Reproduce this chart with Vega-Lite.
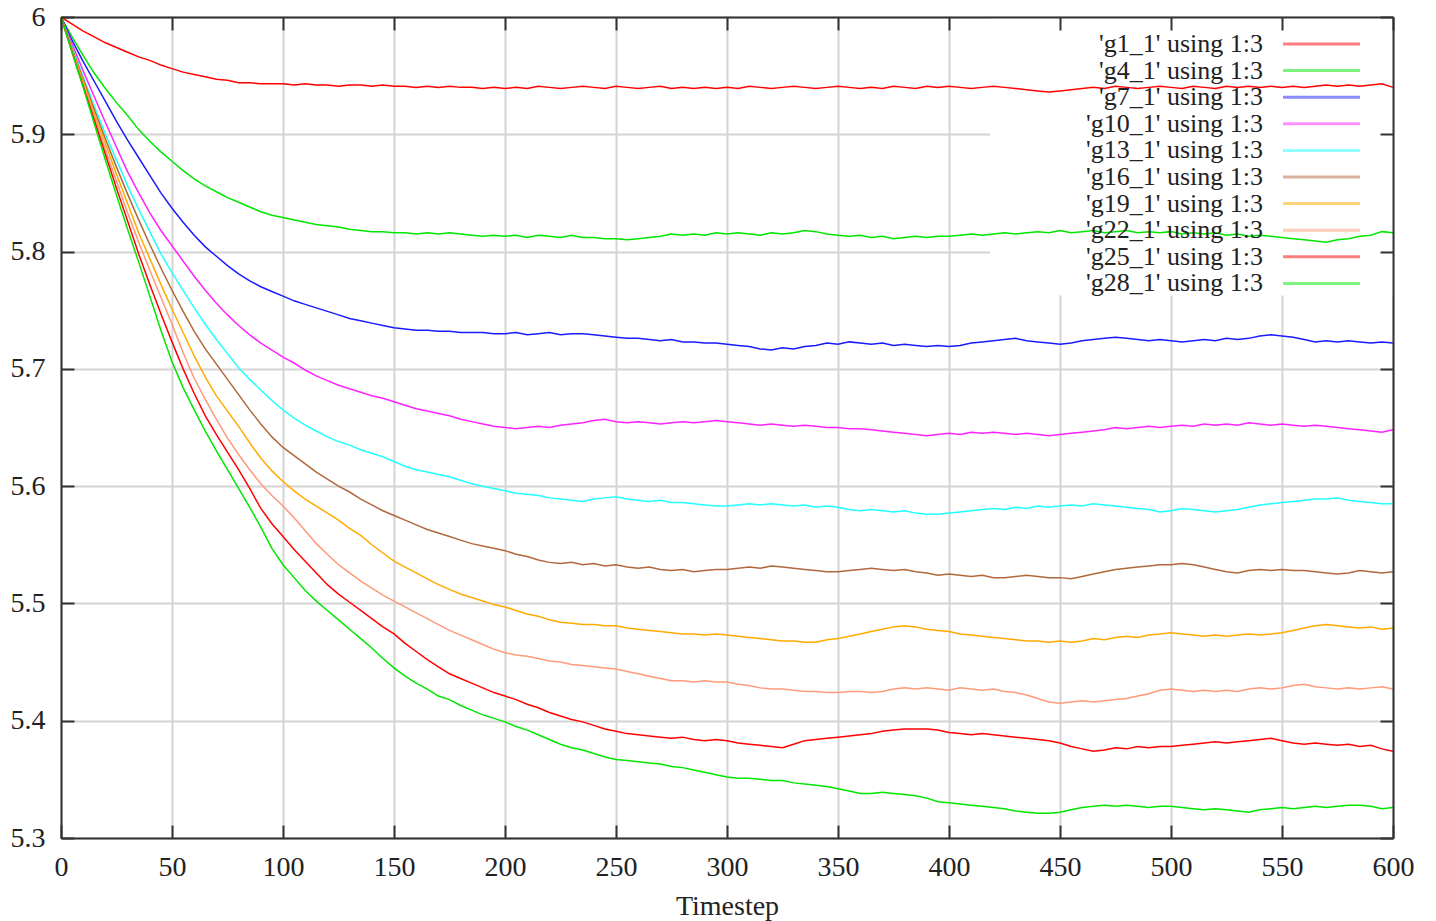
{
  "$schema": "https://vega.github.io/schema/vega-lite/v6.json",
  "width": 1332,
  "height": 821,
  "autosize": {"type": "none"},
  "padding": {"left": 61, "top": 17, "right": 43, "bottom": 83},
  "background": "white",
  "config": {
    "view": {"stroke": null},
    "font": "Liberation Serif"
  },
  "datasets": {
    "curves": [
      {"t":0,"g1_1":6,"g4_1":6,"g7_1":6,"g10_1":6,"g13_1":6,"g16_1":6,"g19_1":6,"g22_1":6,"g25_1":6,"g28_1":6},
      {"t":5,"g1_1":5.994,"g4_1":5.983,"g7_1":5.980,"g10_1":5.977,"g13_1":5.974,"g16_1":5.973,"g19_1":5.972,"g22_1":5.971,"g25_1":5.970,"g28_1":5.970},
      {"t":10,"g1_1":5.988,"g4_1":5.967,"g7_1":5.962,"g10_1":5.954,"g13_1":5.949,"g16_1":5.947,"g19_1":5.945,"g22_1":5.943,"g25_1":5.941,"g28_1":5.940},
      {"t":15,"g1_1":5.983,"g4_1":5.952,"g7_1":5.945,"g10_1":5.932,"g13_1":5.924,"g16_1":5.921,"g19_1":5.918,"g22_1":5.915,"g25_1":5.912,"g28_1":5.909},
      {"t":20,"g1_1":5.978,"g4_1":5.939,"g7_1":5.928,"g10_1":5.910,"g13_1":5.900,"g16_1":5.896,"g19_1":5.892,"g22_1":5.887,"g25_1":5.883,"g28_1":5.878},
      {"t":25,"g1_1":5.974,"g4_1":5.927,"g7_1":5.911,"g10_1":5.889,"g13_1":5.878,"g16_1":5.872,"g19_1":5.866,"g22_1":5.860,"g25_1":5.854,"g28_1":5.848},
      {"t":30,"g1_1":5.970,"g4_1":5.916,"g7_1":5.895,"g10_1":5.868,"g13_1":5.856,"g16_1":5.849,"g19_1":5.841,"g22_1":5.833,"g25_1":5.826,"g28_1":5.819},
      {"t":35,"g1_1":5.966,"g4_1":5.904,"g7_1":5.880,"g10_1":5.850,"g13_1":5.836,"g16_1":5.827,"g19_1":5.816,"g22_1":5.808,"g25_1":5.798,"g28_1":5.791},
      {"t":40,"g1_1":5.963,"g4_1":5.894,"g7_1":5.865,"g10_1":5.833,"g13_1":5.817,"g16_1":5.806,"g19_1":5.794,"g22_1":5.784,"g25_1":5.772,"g28_1":5.762},
      {"t":45,"g1_1":5.959,"g4_1":5.885,"g7_1":5.850,"g10_1":5.818,"g13_1":5.798,"g16_1":5.786,"g19_1":5.772,"g22_1":5.761,"g25_1":5.747,"g28_1":5.733},
      {"t":50,"g1_1":5.956,"g4_1":5.877,"g7_1":5.837,"g10_1":5.805,"g13_1":5.782,"g16_1":5.767,"g19_1":5.751,"g22_1":5.738,"g25_1":5.723,"g28_1":5.706},
      {"t":55,"g1_1":5.953,"g4_1":5.869,"g7_1":5.825,"g10_1":5.792,"g13_1":5.767,"g16_1":5.749,"g19_1":5.731,"g22_1":5.714,"g25_1":5.700,"g28_1":5.684},
      {"t":60,"g1_1":5.951,"g4_1":5.862,"g7_1":5.814,"g10_1":5.779,"g13_1":5.752,"g16_1":5.732,"g19_1":5.711,"g22_1":5.692,"g25_1":5.679,"g28_1":5.665},
      {"t":65,"g1_1":5.949,"g4_1":5.856,"g7_1":5.804,"g10_1":5.767,"g13_1":5.738,"g16_1":5.717,"g19_1":5.693,"g22_1":5.674,"g25_1":5.660,"g28_1":5.647},
      {"t":70,"g1_1":5.947,"g4_1":5.851,"g7_1":5.796,"g10_1":5.756,"g13_1":5.725,"g16_1":5.704,"g19_1":5.677,"g22_1":5.657,"g25_1":5.644,"g28_1":5.630},
      {"t":75,"g1_1":5.946,"g4_1":5.846,"g7_1":5.788,"g10_1":5.746,"g13_1":5.713,"g16_1":5.691,"g19_1":5.664,"g22_1":5.641,"g25_1":5.629,"g28_1":5.614},
      {"t":80,"g1_1":5.944,"g4_1":5.842,"g7_1":5.781,"g10_1":5.737,"g13_1":5.701,"g16_1":5.678,"g19_1":5.651,"g22_1":5.627,"g25_1":5.614,"g28_1":5.598},
      {"t":85,"g1_1":5.944,"g4_1":5.838,"g7_1":5.775,"g10_1":5.729,"g13_1":5.691,"g16_1":5.665,"g19_1":5.637,"g22_1":5.614,"g25_1":5.598,"g28_1":5.582},
      {"t":90,"g1_1":5.943,"g4_1":5.834,"g7_1":5.770,"g10_1":5.722,"g13_1":5.682,"g16_1":5.653,"g19_1":5.624,"g22_1":5.602,"g25_1":5.581,"g28_1":5.565},
      {"t":95,"g1_1":5.943,"g4_1":5.831,"g7_1":5.766,"g10_1":5.716,"g13_1":5.673,"g16_1":5.642,"g19_1":5.613,"g22_1":5.592,"g25_1":5.568,"g28_1":5.547},
      {"t":100,"g1_1":5.943,"g4_1":5.829,"g7_1":5.762,"g10_1":5.710,"g13_1":5.665,"g16_1":5.633,"g19_1":5.604,"g22_1":5.583,"g25_1":5.557,"g28_1":5.533},
      {"t":105,"g1_1":5.942,"g4_1":5.827,"g7_1":5.758,"g10_1":5.705,"g13_1":5.658,"g16_1":5.626,"g19_1":5.596,"g22_1":5.573,"g25_1":5.546,"g28_1":5.522},
      {"t":110,"g1_1":5.943,"g4_1":5.825,"g7_1":5.755,"g10_1":5.699,"g13_1":5.652,"g16_1":5.619,"g19_1":5.589,"g22_1":5.562,"g25_1":5.536,"g28_1":5.511},
      {"t":115,"g1_1":5.942,"g4_1":5.823,"g7_1":5.752,"g10_1":5.694,"g13_1":5.647,"g16_1":5.612,"g19_1":5.583,"g22_1":5.551,"g25_1":5.526,"g28_1":5.502},
      {"t":120,"g1_1":5.942,"g4_1":5.822,"g7_1":5.749,"g10_1":5.690,"g13_1":5.642,"g16_1":5.606,"g19_1":5.577,"g22_1":5.542,"g25_1":5.516,"g28_1":5.494},
      {"t":125,"g1_1":5.941,"g4_1":5.821,"g7_1":5.746,"g10_1":5.686,"g13_1":5.638,"g16_1":5.600,"g19_1":5.571,"g22_1":5.533,"g25_1":5.508,"g28_1":5.486},
      {"t":130,"g1_1":5.942,"g4_1":5.819,"g7_1":5.743,"g10_1":5.683,"g13_1":5.635,"g16_1":5.595,"g19_1":5.564,"g22_1":5.526,"g25_1":5.501,"g28_1":5.478},
      {"t":135,"g1_1":5.942,"g4_1":5.818,"g7_1":5.741,"g10_1":5.680,"g13_1":5.631,"g16_1":5.589,"g19_1":5.558,"g22_1":5.519,"g25_1":5.494,"g28_1":5.470},
      {"t":140,"g1_1":5.941,"g4_1":5.817,"g7_1":5.739,"g10_1":5.677,"g13_1":5.628,"g16_1":5.584,"g19_1":5.550,"g22_1":5.513,"g25_1":5.487,"g28_1":5.462},
      {"t":145,"g1_1":5.942,"g4_1":5.817,"g7_1":5.737,"g10_1":5.675,"g13_1":5.625,"g16_1":5.579,"g19_1":5.543,"g22_1":5.507,"g25_1":5.480,"g28_1":5.453},
      {"t":150,"g1_1":5.941,"g4_1":5.816,"g7_1":5.735,"g10_1":5.672,"g13_1":5.621,"g16_1":5.575,"g19_1":5.536,"g22_1":5.502,"g25_1":5.474,"g28_1":5.445},
      {"t":155,"g1_1":5.941,"g4_1":5.816,"g7_1":5.734,"g10_1":5.669,"g13_1":5.617,"g16_1":5.571,"g19_1":5.531,"g22_1":5.497,"g25_1":5.466,"g28_1":5.438},
      {"t":160,"g1_1":5.940,"g4_1":5.815,"g7_1":5.733,"g10_1":5.666,"g13_1":5.614,"g16_1":5.567,"g19_1":5.526,"g22_1":5.492,"g25_1":5.459,"g28_1":5.432},
      {"t":165,"g1_1":5.941,"g4_1":5.816,"g7_1":5.733,"g10_1":5.664,"g13_1":5.612,"g16_1":5.563,"g19_1":5.521,"g22_1":5.487,"g25_1":5.452,"g28_1":5.427},
      {"t":170,"g1_1":5.940,"g4_1":5.815,"g7_1":5.732,"g10_1":5.662,"g13_1":5.610,"g16_1":5.560,"g19_1":5.516,"g22_1":5.482,"g25_1":5.446,"g28_1":5.421},
      {"t":175,"g1_1":5.941,"g4_1":5.816,"g7_1":5.732,"g10_1":5.660,"g13_1":5.608,"g16_1":5.557,"g19_1":5.512,"g22_1":5.477,"g25_1":5.440,"g28_1":5.418},
      {"t":180,"g1_1":5.940,"g4_1":5.815,"g7_1":5.731,"g10_1":5.657,"g13_1":5.605,"g16_1":5.554,"g19_1":5.508,"g22_1":5.473,"g25_1":5.436,"g28_1":5.413},
      {"t":185,"g1_1":5.940,"g4_1":5.814,"g7_1":5.731,"g10_1":5.655,"g13_1":5.602,"g16_1":5.551,"g19_1":5.505,"g22_1":5.469,"g25_1":5.432,"g28_1":5.409},
      {"t":190,"g1_1":5.939,"g4_1":5.813,"g7_1":5.731,"g10_1":5.653,"g13_1":5.600,"g16_1":5.549,"g19_1":5.502,"g22_1":5.465,"g25_1":5.428,"g28_1":5.405},
      {"t":195,"g1_1":5.940,"g4_1":5.814,"g7_1":5.730,"g10_1":5.651,"g13_1":5.598,"g16_1":5.547,"g19_1":5.499,"g22_1":5.461,"g25_1":5.424,"g28_1":5.402},
      {"t":200,"g1_1":5.939,"g4_1":5.813,"g7_1":5.730,"g10_1":5.650,"g13_1":5.596,"g16_1":5.545,"g19_1":5.497,"g22_1":5.458,"g25_1":5.421,"g28_1":5.399},
      {"t":205,"g1_1":5.940,"g4_1":5.814,"g7_1":5.731,"g10_1":5.649,"g13_1":5.594,"g16_1":5.542,"g19_1":5.494,"g22_1":5.456,"g25_1":5.418,"g28_1":5.395},
      {"t":210,"g1_1":5.939,"g4_1":5.812,"g7_1":5.729,"g10_1":5.650,"g13_1":5.593,"g16_1":5.540,"g19_1":5.491,"g22_1":5.455,"g25_1":5.414,"g28_1":5.392},
      {"t":215,"g1_1":5.941,"g4_1":5.814,"g7_1":5.730,"g10_1":5.651,"g13_1":5.592,"g16_1":5.537,"g19_1":5.489,"g22_1":5.453,"g25_1":5.411,"g28_1":5.388},
      {"t":220,"g1_1":5.940,"g4_1":5.813,"g7_1":5.731,"g10_1":5.650,"g13_1":5.590,"g16_1":5.535,"g19_1":5.486,"g22_1":5.451,"g25_1":5.407,"g28_1":5.384},
      {"t":225,"g1_1":5.939,"g4_1":5.812,"g7_1":5.729,"g10_1":5.652,"g13_1":5.589,"g16_1":5.534,"g19_1":5.484,"g22_1":5.450,"g25_1":5.404,"g28_1":5.380},
      {"t":230,"g1_1":5.940,"g4_1":5.814,"g7_1":5.730,"g10_1":5.653,"g13_1":5.588,"g16_1":5.535,"g19_1":5.483,"g22_1":5.448,"g25_1":5.401,"g28_1":5.377},
      {"t":235,"g1_1":5.941,"g4_1":5.812,"g7_1":5.730,"g10_1":5.654,"g13_1":5.587,"g16_1":5.533,"g19_1":5.482,"g22_1":5.447,"g25_1":5.399,"g28_1":5.375},
      {"t":240,"g1_1":5.940,"g4_1":5.812,"g7_1":5.729,"g10_1":5.656,"g13_1":5.589,"g16_1":5.534,"g19_1":5.482,"g22_1":5.446,"g25_1":5.396,"g28_1":5.372},
      {"t":245,"g1_1":5.939,"g4_1":5.811,"g7_1":5.728,"g10_1":5.657,"g13_1":5.590,"g16_1":5.532,"g19_1":5.481,"g22_1":5.445,"g25_1":5.393,"g28_1":5.369},
      {"t":250,"g1_1":5.941,"g4_1":5.811,"g7_1":5.727,"g10_1":5.655,"g13_1":5.591,"g16_1":5.533,"g19_1":5.481,"g22_1":5.444,"g25_1":5.391,"g28_1":5.367},
      {"t":255,"g1_1":5.940,"g4_1":5.810,"g7_1":5.726,"g10_1":5.654,"g13_1":5.589,"g16_1":5.531,"g19_1":5.479,"g22_1":5.442,"g25_1":5.389,"g28_1":5.366},
      {"t":260,"g1_1":5.939,"g4_1":5.811,"g7_1":5.726,"g10_1":5.655,"g13_1":5.588,"g16_1":5.530,"g19_1":5.478,"g22_1":5.440,"g25_1":5.388,"g28_1":5.365},
      {"t":265,"g1_1":5.940,"g4_1":5.812,"g7_1":5.725,"g10_1":5.654,"g13_1":5.587,"g16_1":5.531,"g19_1":5.477,"g22_1":5.438,"g25_1":5.387,"g28_1":5.364},
      {"t":270,"g1_1":5.941,"g4_1":5.813,"g7_1":5.724,"g10_1":5.653,"g13_1":5.588,"g16_1":5.529,"g19_1":5.476,"g22_1":5.436,"g25_1":5.386,"g28_1":5.363},
      {"t":275,"g1_1":5.939,"g4_1":5.815,"g7_1":5.725,"g10_1":5.654,"g13_1":5.586,"g16_1":5.528,"g19_1":5.475,"g22_1":5.434,"g25_1":5.385,"g28_1":5.361},
      {"t":280,"g1_1":5.940,"g4_1":5.814,"g7_1":5.723,"g10_1":5.655,"g13_1":5.586,"g16_1":5.529,"g19_1":5.474,"g22_1":5.434,"g25_1":5.386,"g28_1":5.360},
      {"t":285,"g1_1":5.939,"g4_1":5.815,"g7_1":5.723,"g10_1":5.654,"g13_1":5.585,"g16_1":5.527,"g19_1":5.474,"g22_1":5.433,"g25_1":5.384,"g28_1":5.358},
      {"t":290,"g1_1":5.940,"g4_1":5.814,"g7_1":5.722,"g10_1":5.655,"g13_1":5.584,"g16_1":5.528,"g19_1":5.473,"g22_1":5.434,"g25_1":5.383,"g28_1":5.356},
      {"t":295,"g1_1":5.939,"g4_1":5.816,"g7_1":5.722,"g10_1":5.656,"g13_1":5.583,"g16_1":5.529,"g19_1":5.474,"g22_1":5.433,"g25_1":5.384,"g28_1":5.354},
      {"t":300,"g1_1":5.940,"g4_1":5.815,"g7_1":5.721,"g10_1":5.655,"g13_1":5.583,"g16_1":5.529,"g19_1":5.473,"g22_1":5.433,"g25_1":5.383,"g28_1":5.352},
      {"t":305,"g1_1":5.939,"g4_1":5.816,"g7_1":5.720,"g10_1":5.654,"g13_1":5.584,"g16_1":5.530,"g19_1":5.472,"g22_1":5.431,"g25_1":5.381,"g28_1":5.351},
      {"t":310,"g1_1":5.941,"g4_1":5.815,"g7_1":5.719,"g10_1":5.653,"g13_1":5.585,"g16_1":5.531,"g19_1":5.471,"g22_1":5.430,"g25_1":5.380,"g28_1":5.351},
      {"t":315,"g1_1":5.940,"g4_1":5.814,"g7_1":5.717,"g10_1":5.652,"g13_1":5.584,"g16_1":5.530,"g19_1":5.470,"g22_1":5.428,"g25_1":5.379,"g28_1":5.350},
      {"t":320,"g1_1":5.939,"g4_1":5.816,"g7_1":5.716,"g10_1":5.653,"g13_1":5.585,"g16_1":5.532,"g19_1":5.469,"g22_1":5.427,"g25_1":5.378,"g28_1":5.349},
      {"t":325,"g1_1":5.940,"g4_1":5.815,"g7_1":5.718,"g10_1":5.652,"g13_1":5.584,"g16_1":5.531,"g19_1":5.468,"g22_1":5.427,"g25_1":5.377,"g28_1":5.349},
      {"t":330,"g1_1":5.941,"g4_1":5.816,"g7_1":5.717,"g10_1":5.651,"g13_1":5.583,"g16_1":5.530,"g19_1":5.468,"g22_1":5.426,"g25_1":5.380,"g28_1":5.347},
      {"t":335,"g1_1":5.940,"g4_1":5.818,"g7_1":5.719,"g10_1":5.652,"g13_1":5.584,"g16_1":5.529,"g19_1":5.467,"g22_1":5.425,"g25_1":5.383,"g28_1":5.346},
      {"t":340,"g1_1":5.939,"g4_1":5.817,"g7_1":5.720,"g10_1":5.651,"g13_1":5.582,"g16_1":5.528,"g19_1":5.467,"g22_1":5.425,"g25_1":5.384,"g28_1":5.345},
      {"t":345,"g1_1":5.940,"g4_1":5.815,"g7_1":5.722,"g10_1":5.650,"g13_1":5.583,"g16_1":5.527,"g19_1":5.469,"g22_1":5.424,"g25_1":5.385,"g28_1":5.344},
      {"t":350,"g1_1":5.941,"g4_1":5.814,"g7_1":5.721,"g10_1":5.650,"g13_1":5.582,"g16_1":5.527,"g19_1":5.470,"g22_1":5.424,"g25_1":5.386,"g28_1":5.342},
      {"t":355,"g1_1":5.940,"g4_1":5.813,"g7_1":5.723,"g10_1":5.649,"g13_1":5.580,"g16_1":5.528,"g19_1":5.472,"g22_1":5.425,"g25_1":5.387,"g28_1":5.340},
      {"t":360,"g1_1":5.939,"g4_1":5.814,"g7_1":5.722,"g10_1":5.649,"g13_1":5.579,"g16_1":5.529,"g19_1":5.474,"g22_1":5.425,"g25_1":5.388,"g28_1":5.338},
      {"t":365,"g1_1":5.940,"g4_1":5.812,"g7_1":5.721,"g10_1":5.648,"g13_1":5.580,"g16_1":5.530,"g19_1":5.476,"g22_1":5.424,"g25_1":5.389,"g28_1":5.338},
      {"t":370,"g1_1":5.939,"g4_1":5.813,"g7_1":5.722,"g10_1":5.647,"g13_1":5.579,"g16_1":5.529,"g19_1":5.478,"g22_1":5.425,"g25_1":5.391,"g28_1":5.339},
      {"t":375,"g1_1":5.941,"g4_1":5.811,"g7_1":5.720,"g10_1":5.646,"g13_1":5.578,"g16_1":5.528,"g19_1":5.480,"g22_1":5.427,"g25_1":5.392,"g28_1":5.338},
      {"t":380,"g1_1":5.940,"g4_1":5.812,"g7_1":5.721,"g10_1":5.645,"g13_1":5.579,"g16_1":5.529,"g19_1":5.481,"g22_1":5.428,"g25_1":5.393,"g28_1":5.337},
      {"t":385,"g1_1":5.939,"g4_1":5.813,"g7_1":5.720,"g10_1":5.644,"g13_1":5.577,"g16_1":5.527,"g19_1":5.480,"g22_1":5.427,"g25_1":5.393,"g28_1":5.336},
      {"t":390,"g1_1":5.941,"g4_1":5.812,"g7_1":5.719,"g10_1":5.643,"g13_1":5.576,"g16_1":5.526,"g19_1":5.478,"g22_1":5.428,"g25_1":5.393,"g28_1":5.334},
      {"t":395,"g1_1":5.940,"g4_1":5.813,"g7_1":5.720,"g10_1":5.644,"g13_1":5.576,"g16_1":5.524,"g19_1":5.477,"g22_1":5.427,"g25_1":5.392,"g28_1":5.331},
      {"t":400,"g1_1":5.941,"g4_1":5.813,"g7_1":5.719,"g10_1":5.645,"g13_1":5.577,"g16_1":5.525,"g19_1":5.476,"g22_1":5.426,"g25_1":5.390,"g28_1":5.330},
      {"t":405,"g1_1":5.940,"g4_1":5.814,"g7_1":5.720,"g10_1":5.644,"g13_1":5.578,"g16_1":5.524,"g19_1":5.474,"g22_1":5.428,"g25_1":5.389,"g28_1":5.329},
      {"t":410,"g1_1":5.939,"g4_1":5.815,"g7_1":5.722,"g10_1":5.646,"g13_1":5.579,"g16_1":5.523,"g19_1":5.473,"g22_1":5.427,"g25_1":5.388,"g28_1":5.328},
      {"t":415,"g1_1":5.940,"g4_1":5.814,"g7_1":5.723,"g10_1":5.645,"g13_1":5.580,"g16_1":5.524,"g19_1":5.472,"g22_1":5.426,"g25_1":5.389,"g28_1":5.327},
      {"t":420,"g1_1":5.941,"g4_1":5.815,"g7_1":5.724,"g10_1":5.646,"g13_1":5.581,"g16_1":5.522,"g19_1":5.471,"g22_1":5.427,"g25_1":5.388,"g28_1":5.326},
      {"t":425,"g1_1":5.940,"g4_1":5.816,"g7_1":5.725,"g10_1":5.645,"g13_1":5.580,"g16_1":5.522,"g19_1":5.470,"g22_1":5.425,"g25_1":5.387,"g28_1":5.325},
      {"t":430,"g1_1":5.939,"g4_1":5.815,"g7_1":5.726,"g10_1":5.644,"g13_1":5.582,"g16_1":5.523,"g19_1":5.469,"g22_1":5.424,"g25_1":5.386,"g28_1":5.323},
      {"t":435,"g1_1":5.938,"g4_1":5.816,"g7_1":5.724,"g10_1":5.645,"g13_1":5.581,"g16_1":5.524,"g19_1":5.468,"g22_1":5.422,"g25_1":5.385,"g28_1":5.322},
      {"t":440,"g1_1":5.937,"g4_1":5.817,"g7_1":5.723,"g10_1":5.644,"g13_1":5.583,"g16_1":5.523,"g19_1":5.468,"g22_1":5.419,"g25_1":5.384,"g28_1":5.321},
      {"t":445,"g1_1":5.936,"g4_1":5.816,"g7_1":5.722,"g10_1":5.643,"g13_1":5.582,"g16_1":5.522,"g19_1":5.467,"g22_1":5.416,"g25_1":5.383,"g28_1":5.321},
      {"t":450,"g1_1":5.937,"g4_1":5.818,"g7_1":5.721,"g10_1":5.644,"g13_1":5.583,"g16_1":5.522,"g19_1":5.468,"g22_1":5.415,"g25_1":5.381,"g28_1":5.322},
      {"t":455,"g1_1":5.938,"g4_1":5.816,"g7_1":5.722,"g10_1":5.645,"g13_1":5.584,"g16_1":5.521,"g19_1":5.467,"g22_1":5.416,"g25_1":5.378,"g28_1":5.324},
      {"t":460,"g1_1":5.939,"g4_1":5.817,"g7_1":5.724,"g10_1":5.646,"g13_1":5.583,"g16_1":5.523,"g19_1":5.468,"g22_1":5.417,"g25_1":5.376,"g28_1":5.326},
      {"t":465,"g1_1":5.940,"g4_1":5.818,"g7_1":5.725,"g10_1":5.647,"g13_1":5.585,"g16_1":5.525,"g19_1":5.470,"g22_1":5.416,"g25_1":5.374,"g28_1":5.327},
      {"t":470,"g1_1":5.939,"g4_1":5.816,"g7_1":5.726,"g10_1":5.648,"g13_1":5.584,"g16_1":5.527,"g19_1":5.469,"g22_1":5.417,"g25_1":5.375,"g28_1":5.328},
      {"t":475,"g1_1":5.941,"g4_1":5.817,"g7_1":5.727,"g10_1":5.650,"g13_1":5.583,"g16_1":5.529,"g19_1":5.471,"g22_1":5.418,"g25_1":5.377,"g28_1":5.327},
      {"t":480,"g1_1":5.940,"g4_1":5.818,"g7_1":5.726,"g10_1":5.649,"g13_1":5.582,"g16_1":5.530,"g19_1":5.472,"g22_1":5.419,"g25_1":5.376,"g28_1":5.328},
      {"t":485,"g1_1":5.939,"g4_1":5.816,"g7_1":5.725,"g10_1":5.650,"g13_1":5.581,"g16_1":5.531,"g19_1":5.471,"g22_1":5.421,"g25_1":5.378,"g28_1":5.327},
      {"t":490,"g1_1":5.940,"g4_1":5.817,"g7_1":5.724,"g10_1":5.651,"g13_1":5.580,"g16_1":5.532,"g19_1":5.473,"g22_1":5.423,"g25_1":5.377,"g28_1":5.326},
      {"t":495,"g1_1":5.941,"g4_1":5.816,"g7_1":5.725,"g10_1":5.650,"g13_1":5.578,"g16_1":5.533,"g19_1":5.474,"g22_1":5.426,"g25_1":5.378,"g28_1":5.327},
      {"t":500,"g1_1":5.940,"g4_1":5.817,"g7_1":5.724,"g10_1":5.651,"g13_1":5.579,"g16_1":5.533,"g19_1":5.475,"g22_1":5.427,"g25_1":5.378,"g28_1":5.327},
      {"t":505,"g1_1":5.939,"g4_1":5.815,"g7_1":5.723,"g10_1":5.652,"g13_1":5.581,"g16_1":5.534,"g19_1":5.474,"g22_1":5.426,"g25_1":5.379,"g28_1":5.326},
      {"t":510,"g1_1":5.941,"g4_1":5.816,"g7_1":5.724,"g10_1":5.651,"g13_1":5.580,"g16_1":5.533,"g19_1":5.473,"g22_1":5.425,"g25_1":5.380,"g28_1":5.325},
      {"t":515,"g1_1":5.940,"g4_1":5.815,"g7_1":5.725,"g10_1":5.653,"g13_1":5.579,"g16_1":5.531,"g19_1":5.472,"g22_1":5.426,"g25_1":5.381,"g28_1":5.324},
      {"t":520,"g1_1":5.939,"g4_1":5.816,"g7_1":5.724,"g10_1":5.652,"g13_1":5.578,"g16_1":5.529,"g19_1":5.473,"g22_1":5.425,"g25_1":5.382,"g28_1":5.325},
      {"t":525,"g1_1":5.941,"g4_1":5.814,"g7_1":5.726,"g10_1":5.653,"g13_1":5.579,"g16_1":5.527,"g19_1":5.472,"g22_1":5.426,"g25_1":5.381,"g28_1":5.324},
      {"t":530,"g1_1":5.940,"g4_1":5.815,"g7_1":5.725,"g10_1":5.652,"g13_1":5.580,"g16_1":5.526,"g19_1":5.473,"g22_1":5.425,"g25_1":5.382,"g28_1":5.323},
      {"t":535,"g1_1":5.941,"g4_1":5.813,"g7_1":5.726,"g10_1":5.654,"g13_1":5.582,"g16_1":5.528,"g19_1":5.474,"g22_1":5.427,"g25_1":5.383,"g28_1":5.322},
      {"t":540,"g1_1":5.940,"g4_1":5.814,"g7_1":5.728,"g10_1":5.653,"g13_1":5.584,"g16_1":5.529,"g19_1":5.473,"g22_1":5.428,"g25_1":5.384,"g28_1":5.324},
      {"t":545,"g1_1":5.941,"g4_1":5.813,"g7_1":5.729,"g10_1":5.652,"g13_1":5.585,"g16_1":5.528,"g19_1":5.474,"g22_1":5.427,"g25_1":5.385,"g28_1":5.325},
      {"t":550,"g1_1":5.940,"g4_1":5.812,"g7_1":5.728,"g10_1":5.653,"g13_1":5.586,"g16_1":5.529,"g19_1":5.475,"g22_1":5.428,"g25_1":5.383,"g28_1":5.326},
      {"t":555,"g1_1":5.941,"g4_1":5.811,"g7_1":5.727,"g10_1":5.652,"g13_1":5.587,"g16_1":5.528,"g19_1":5.477,"g22_1":5.430,"g25_1":5.381,"g28_1":5.325},
      {"t":560,"g1_1":5.940,"g4_1":5.810,"g7_1":5.725,"g10_1":5.651,"g13_1":5.588,"g16_1":5.528,"g19_1":5.479,"g22_1":5.431,"g25_1":5.380,"g28_1":5.326},
      {"t":565,"g1_1":5.941,"g4_1":5.809,"g7_1":5.723,"g10_1":5.652,"g13_1":5.589,"g16_1":5.527,"g19_1":5.481,"g22_1":5.429,"g25_1":5.381,"g28_1":5.327},
      {"t":570,"g1_1":5.942,"g4_1":5.808,"g7_1":5.724,"g10_1":5.651,"g13_1":5.589,"g16_1":5.526,"g19_1":5.482,"g22_1":5.428,"g25_1":5.380,"g28_1":5.326},
      {"t":575,"g1_1":5.941,"g4_1":5.810,"g7_1":5.723,"g10_1":5.650,"g13_1":5.590,"g16_1":5.525,"g19_1":5.481,"g22_1":5.427,"g25_1":5.379,"g28_1":5.327},
      {"t":580,"g1_1":5.942,"g4_1":5.811,"g7_1":5.724,"g10_1":5.649,"g13_1":5.588,"g16_1":5.526,"g19_1":5.480,"g22_1":5.428,"g25_1":5.380,"g28_1":5.328},
      {"t":585,"g1_1":5.941,"g4_1":5.813,"g7_1":5.723,"g10_1":5.648,"g13_1":5.587,"g16_1":5.528,"g19_1":5.479,"g22_1":5.427,"g25_1":5.378,"g28_1":5.328},
      {"t":590,"g1_1":5.942,"g4_1":5.814,"g7_1":5.722,"g10_1":5.647,"g13_1":5.586,"g16_1":5.527,"g19_1":5.480,"g22_1":5.428,"g25_1":5.379,"g28_1":5.327},
      {"t":595,"g1_1":5.943,"g4_1":5.817,"g7_1":5.723,"g10_1":5.646,"g13_1":5.585,"g16_1":5.526,"g19_1":5.478,"g22_1":5.429,"g25_1":5.376,"g28_1":5.325},
      {"t":600,"g1_1":5.940,"g4_1":5.816,"g7_1":5.722,"g10_1":5.648,"g13_1":5.585,"g16_1":5.527,"g19_1":5.479,"g22_1":5.427,"g25_1":5.374,"g28_1":5.326}
    ]
  },
  "layer": [
    {
      "data": {"values": [{"box": "legend"}]},
      "mark": {"type": "rect", "fill": "white", "stroke": null},
      "encoding": {
        "x": {"datum": 418.5, "type": "quantitative",
              "scale": {"domain": [0, 600], "nice": false, "zero": false},
              "axis": {"orient": "top", "title": null, "labels": false, "grid": false,
                       "values": [0,50,100,150,200,250,300,350,400,450,500,550,600],
                       "tickSize": -13, "tickWidth": 2, "tickColor": "#333",
                       "domain": true, "domainColor": "#333", "domainWidth": 2, "zindex": 1}},
        "x2": {"datum": 600},
        "y": {"datum": 5.7626, "type": "quantitative",
              "scale": {"domain": [5.3, 6], "nice": false, "zero": false},
              "axis": {"orient": "right", "title": null, "labels": false, "grid": false,
                       "values": [5.3,5.4,5.5,5.6,5.7,5.8,5.9,6],
                       "tickSize": -13, "tickWidth": 2, "tickColor": "#333",
                       "domain": true, "domainColor": "#333", "domainWidth": 2, "zindex": 1}},
        "y2": {"datum": 6}
      }
    },
    {
      "data": {"name": "curves"},
      "transform": [
        {"fold": ["g1_1","g4_1","g7_1","g10_1","g13_1","g16_1","g19_1","g22_1","g25_1","g28_1"], "as": ["series", "value"]}
      ],
      "mark": {"type": "line", "strokeWidth": 1.5},
      "encoding": {
        "x": {"field": "t", "type": "quantitative",
              "scale": {"domain": [0, 600], "nice": false, "zero": false},
              "axis": {"orient": "bottom", "title": "Timestep", "grid": true,
                       "gridColor": "#d4d4d4", "gridWidth": 2,
                       "values": [0,50,100,150,200,250,300,350,400,450,500,550,600],
                       "format": "d",
                       "tickSize": -13, "tickWidth": 2, "tickColor": "#333",
                       "domain": true, "domainColor": "#333", "domainWidth": 2,
                       "labelFont": "Liberation Serif", "labelFontSize": 28, "labelColor": "#222",
                       "labelPadding": 28, "labelFlush": false,
                       "titleFont": "Liberation Serif", "titleFontSize": 28, "titleFontWeight": "normal",
                       "titleColor": "#222", "titlePadding": 11, "zindex": 0}},
        "y": {"field": "value", "type": "quantitative",
              "scale": {"domain": [5.3, 6], "nice": false, "zero": false},
              "axis": {"orient": "left", "title": null, "grid": true,
                       "gridColor": "#d4d4d4", "gridWidth": 2,
                       "values": [5.3,5.4,5.5,5.6,5.7,5.8,5.9,6],
                       "format": "~f",
                       "tickSize": -13, "tickWidth": 2, "tickColor": "#333",
                       "domain": true, "domainColor": "#333", "domainWidth": 2,
                       "labelFont": "Liberation Serif", "labelFontSize": 28, "labelColor": "#222",
                       "labelPadding": 29, "labelFlush": false, "zindex": 0}},
        "color": {"field": "series", "type": "nominal",
                  "scale": {"domain": ["g1_1","g4_1","g7_1","g10_1","g13_1","g16_1","g19_1","g22_1","g25_1","g28_1"],
                            "range": ["#ff0000","#00e600","#1a1aff","#ff22ff","#22ffff","#b0683c","#ffaa00","#ff9a78","#ff0000","#00e600"]},
                  "legend": {"orient": "none", "legendX": 1247.5, "legendY": 14, "title": null,
                             "padding": 0,
                             "symbolType": "M-5,0H5", "symbolSize": 237, "symbolStrokeWidth": 3,
                             "symbolOpacity": 0.5,
                             "labelFont": "Liberation Serif", "labelFontSize": 26, "labelColor": "#222",
                             "labelAlign": "right", "labelOffset": -71.5, "labelLimit": 0,
                             "rowPadding": 0.6,
                             "labelExpr": "\"'\" + datum.label + \"' using 1:3\""}}
      }
    }
  ],
  "resolve": {"axis": {"x": "independent", "y": "independent"}}
}
